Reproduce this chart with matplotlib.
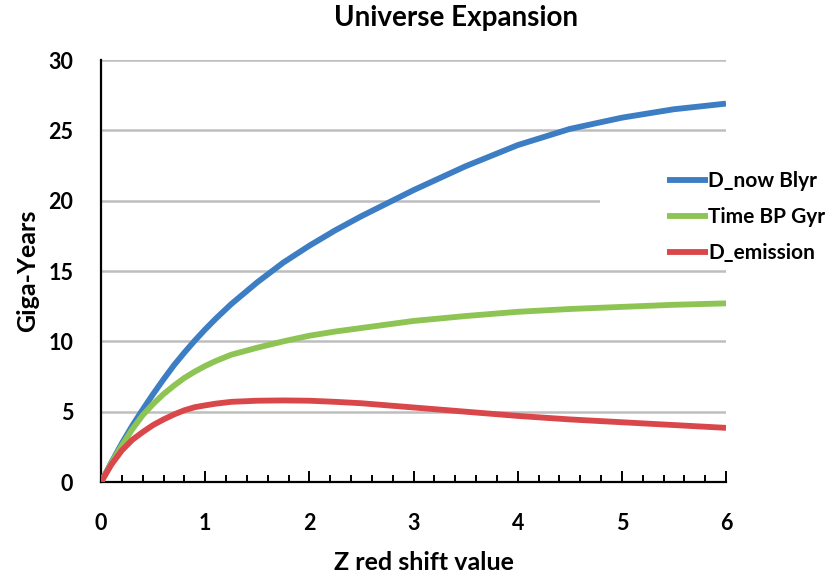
import matplotlib
matplotlib.use('Agg')
from matplotlib import pyplot as plt, patches
from matplotlib.ticker import MultipleLocator

# valores (z = redshift)
z_vals = [0, 0.1, 0.2, 0.3, 0.4, 0.5, 0.6, 0.7, 0.8, 0.9, 1.0, 1.1, 1.25,
          1.5, 1.75, 2.0, 2.25, 2.5, 3.0, 3.5, 4.0, 4.5, 5.0, 5.5, 6.0]
d_now = [0, 1.4, 2.75, 4.0, 5.15, 6.25, 7.3, 8.3, 9.2, 10.05, 10.85, 11.6, 12.65,
         14.2, 15.6, 16.8, 17.9, 18.9, 20.75, 22.45, 23.95, 25.1, 25.9, 26.5, 26.9]
time_bp = [0, 1.35, 2.6, 3.75, 4.75, 5.55, 6.25, 6.85, 7.4, 7.85, 8.25, 8.6, 9.05,
           9.55, 10.0, 10.4, 10.7, 10.95, 11.45, 11.8, 12.1, 12.3, 12.45, 12.6, 12.7]
d_emission = [0, 1.25, 2.25, 3.0, 3.55, 4.05, 4.45, 4.8, 5.1, 5.32, 5.45, 5.57, 5.7,
              5.78, 5.8, 5.78, 5.7, 5.6, 5.3, 5.0, 4.7, 4.45, 4.25, 4.05, 3.85]

series_names = ['D_now Blyr', 'Time BP Gyr', 'D_emission']
series_colors = ['#3C7DC3', '#8DC453', '#D9474A']
y_ticks = [0, 5, 10, 15, 20, 25, 30]
x_ticks = [0, 1, 2, 3, 4, 5, 6]

plt.rcParams['font.family'] = ['Lato', 'DejaVu Sans']
plt.rcParams['font.weight'] = 'bold'

fig = plt.figure(figsize=(8.37, 5.77), dpi=100)
ax = fig.add_axes([0.1207, 0.1646, 0.7467, 0.7314])

for vals, nome, cor in zip([d_now, time_bp, d_emission], series_names, series_colors):
    ax.plot(z_vals, vals, color=cor, lw=4.2, label=nome, solid_capstyle='butt',
            solid_joinstyle='round', zorder=3)

ax.set_xlim(0, 6)
ax.set_ylim(0, 30)
ax.set_xticks(x_ticks)
ax.set_yticks(y_ticks)
ax.xaxis.set_minor_locator(MultipleLocator(0.2))

# grade horizontal
ax.grid(axis='y', color='#BEBEBE', lw=1.8, zorder=0)
ax.set_axisbelow(True)
ax.tick_params(axis='y', length=0, pad=20, labelsize=15.5)
ax.tick_params(axis='x', which='major', direction='in', length=8, width=1.4,
               pad=22, labelsize=15.5)
ax.tick_params(axis='x', which='minor', direction='in', length=5, width=1.4)
for lab in ax.get_xticklabels() + ax.get_yticklabels():
    lab.set_fontweight('bold')

for s in ['top', 'right']:
    ax.spines[s].set_visible(False)
for s in ['left', 'bottom']:
    ax.spines[s].set_linewidth(1.6)
    ax.spines[s].set_color('black')

# area branca da legenda que corta a grade do 20
ax.add_patch(patches.Rectangle((0.7985, 0.6), 0.3, 0.1, transform=ax.transAxes,
                               facecolor='white', edgecolor='none', zorder=1,
                               clip_on=False))

xl = ax.set_xlabel('Z red shift value', fontsize=18, fontweight='bold')
yl = ax.set_ylabel('Giga-Years', fontsize=18, fontweight='bold')
ax.xaxis.set_label_coords(0.517, -0.19)
ax.yaxis.set_label_coords(-0.118, 0.5)
xl.set_va('center')
yl.set_va('center')
fig.text(0.545, 0.968, 'Universe Expansion', ha='center', va='center',
         fontsize=20, fontweight='bold')

leg = ax.legend(loc='center left', bbox_to_anchor=(0.905, 0.628), frameon=False,
                fontsize=15, handlelength=2.0, handletextpad=0.0,
                labelspacing=0.76, borderaxespad=0, borderpad=0)
for t in leg.get_texts():
    t.set_fontweight('bold')

fig.savefig('out.png', dpi=100)
